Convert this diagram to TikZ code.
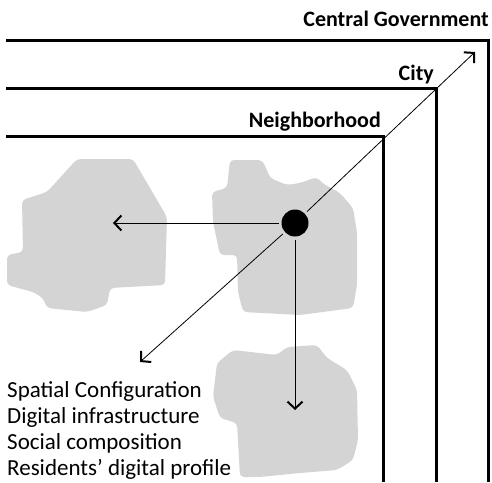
\documentclass[tikz,border=0pt]{standalone}
\usepackage{fontspec}
\setmainfont{Carlito}
\usetikzlibrary{arrows.meta}
\definecolor{blobgray}{RGB}{212,212,212}

\begin{document}
\begin{tikzpicture}[x=1pt,y=-1pt,
    ring/.style={line width=3pt, line join=miter},
    ringlabel/.style={font=\bfseries\fontsize{22}{26}\selectfont, inner sep=0pt, anchor=base east},
    area/.style={fill=blobgray, rounded corners=4pt},
    link/.style={line width=0.8pt, -{Straight Barb[length=7pt,width=15pt,line width=2pt]}}]
    \useasboundingbox (0,0) rectangle (492,482);

    % Neighborhood areas
    \fill[area] (77,159) -- (133,159) -- (167,217) -- (165,285) -- (110,288) -- (107,305)
        -- (87,312) -- (47,308) -- (43,298) -- (33,292) -- (7,285) -- (7,255) -- (23,252)
        -- (22,200) -- (47,192) -- cycle;
    \fill[area] (230,160) -- (262,160) -- (267,170) -- (270,178) -- (287,185) -- (300,183)
        -- (317,177) -- (322,183) -- (340,193) -- (353,208) -- (357,232) -- (357,285)
        -- (353,308) -- (300,315) -- (243,312) -- (238,292) -- (237,255) -- (220,255)
        -- (213,222) -- (212,192) -- (227,188) -- cycle;
    \fill[area] (233,350) -- (277,355) -- (287,347) -- (317,345) -- (327,358) -- (347,370)
        -- (357,390) -- (358,440) -- (353,460) -- (337,470) -- (300,473) -- (260,477)
        -- (240,477) -- (237,423) -- (220,418) -- (213,397) -- (217,363) -- cycle;

    % Governance levels
    \draw[ring] (6,40) -- (488,40) -- (488,482);
    \draw[ring] (6,88) -- (436,88) -- (436,482);
    \draw[ring] (6,136) -- (383,136) -- (383,482);
    \node[ringlabel] (gov) at (489,26) {Central Government};
    \node[ringlabel] (city) at (434,80) {City};
    \node[ringlabel] (hood) at (381,127) {Neighborhood};

    % Focal point and its relations
    \node[circle, fill=black, minimum size=27pt, inner sep=0pt, outer sep=3pt] (hub) at (295,223) {};
    \coordinate (up) at (475,52);
    \coordinate (west) at (113,223);
    \coordinate (south) at (295,410);
    \coordinate (sw) at (140,362);
    \draw[link] (hub) -- (up);
    \draw[link] (hub) -- (west);
    \draw[link] (hub) -- (south);
    \draw[link] (hub) -- (sw);

    \node[anchor=north west, inner sep=0pt, align=left,
        font=\fontsize{23}{26}\selectfont] (factors) at (7,381)
        {Spatial Configuration\\Digital infrastructure\\Social composition\\Residents' digital profile};
\end{tikzpicture}
\end{document}
